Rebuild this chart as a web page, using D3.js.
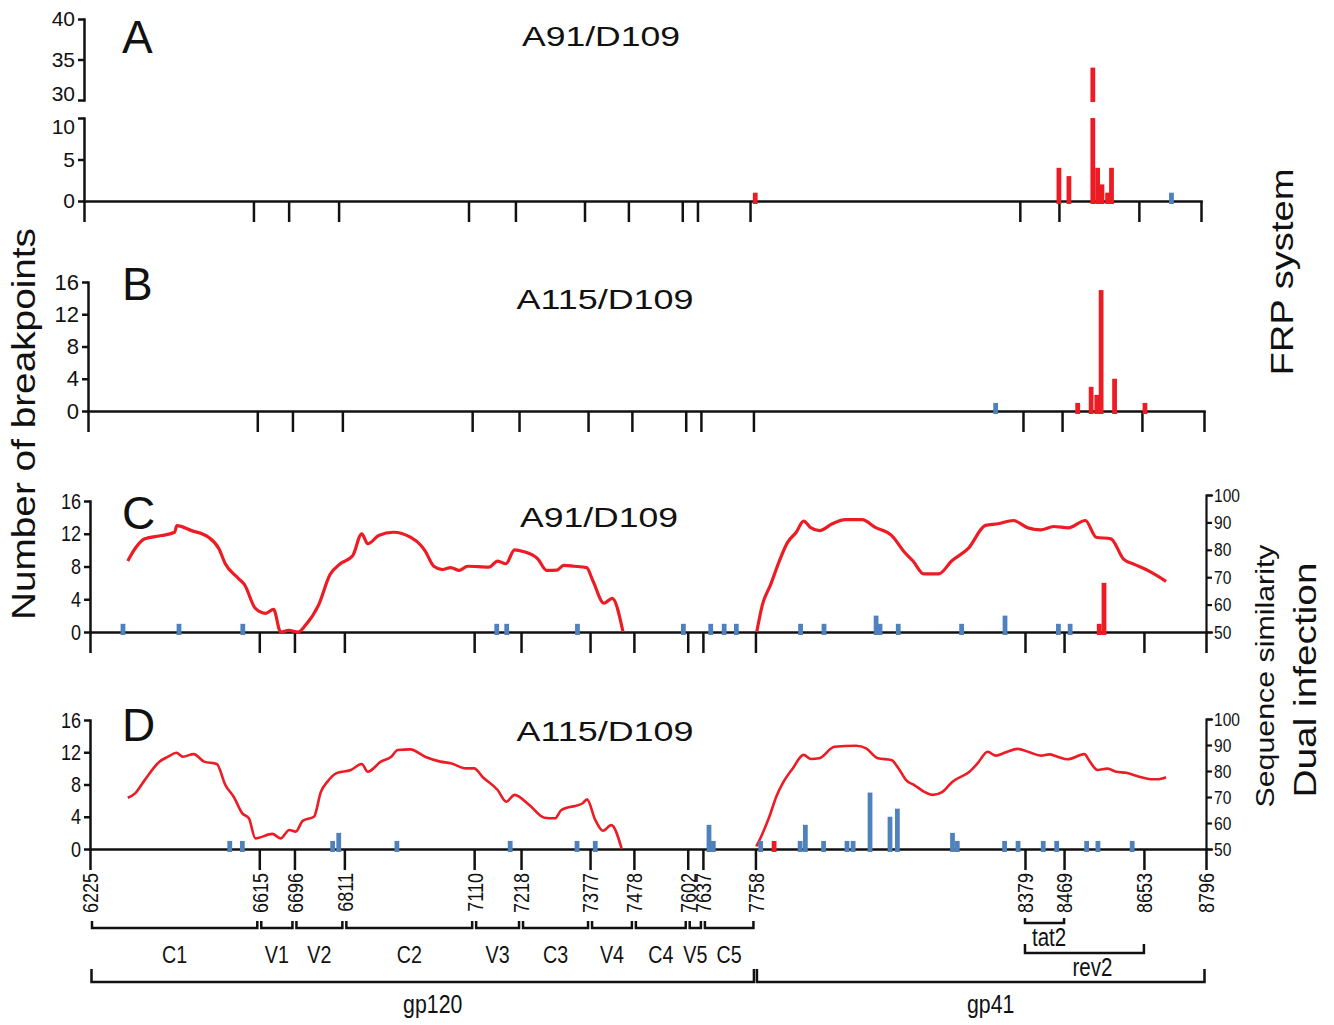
<!DOCTYPE html>
<html>
<head>
<meta charset="utf-8">
<script src="https://cdn.jsdelivr.net/npm/d3@7"></script>
<style>
  body { margin: 0; background: #fff; }
  text { font-family: "Liberation Sans", Arial, sans-serif; fill: #111; }
</style>
</head>
<body>
<div id="chart"></div>
<script>
// genome coordinates (HXB2) of the env region boundaries
const boundaries = [6225, 6615, 6696, 6811, 7110, 7218, 7377, 7478, 7602, 7637, 7758, 8379, 8469, 8653, 8796];
const regionNames = ["C1", "V1", "V2", "C2", "V3", "C3", "V4", "C4", "V5", "C5"];
const proteins = [["gp120", 6225, 7758], ["gp41", 7758, 8796]];
const exons = [["tat2", 8379, 8469], ["rev2", 8379, 8653]];

// breakpoint counts: [position, number of breakpoints]
const frpA_red = [[7770, 1], [8469, 4], [8492, 3], [8547, 34], [8558, 4], [8568, 2], [8581, 1], [8590, 4]];
const frpA_blue = [[8728, 1]];
const frpB_red = [[8505, 1], [8536, 3], [8549, 2], [8559, 15], [8590, 4], [8660, 1]];
const frpB_blue = [[8316, 1]];
const dualC_blue = [[6301, 1], [6430, 1], [6577, 1], [7162, 1], [7185, 1], [7348, 1], [7592, 1], [7655, 1], [7686, 1], [7714, 1],
  [7862, 1], [7916, 1], [8036, 2], [8045, 1], [8087, 1], [8233, 1], [8333, 2], [8456, 1], [8483, 1]];
const dualC_red = [[8550, 1], [8561, 6]];
const dualD_blue = [[6547, 1], [6576, 1], [6784, 1], [6798, 2], [6932, 1], [7193, 1], [7347, 1], [7389, 1], [7651, 3], [7661, 1],
  [7770, 1], [7861, 1], [7873, 3], [7915, 1], [7969, 1], [7983, 1], [8022, 7], [8068, 4], [8085, 5], [8212, 2], [8223, 1],
  [8332, 1], [8363, 1], [8421, 1], [8452, 1], [8521, 1], [8547, 1], [8626, 1]];
const dualD_red = [[7801, 1]];

// sequence similarity (%) along the alignment, null = below 50 (not shown)
const simC = [[6312, 75.9], [6331, 80.9], [6351, 84], [6390, 85.2], [6420, 86.4], [6425, 88.8], [6459, 87], [6498, 84.6], [6522, 80.4],
  [6537, 74.8], [6566, 69.7], [6581, 67.3], [6606, 58.6], [6630, 56.8], [6648, 58.3], [6664, 50], [6683, 50.6], [6704, 50],
  [6722, 52.6], [6752, 60], [6778, 71], [6801, 74.8], [6830, 77.8], [6851, 85.8], [6865, 82.2], [6890, 85.2], [6924, 86.4],
  [6963, 84.6], [6988, 81.5], [6997, 79.6], [7017, 74], [7037, 72.8], [7056, 73.5], [7076, 72.5], [7095, 74], [7144, 73.7],
  [7164, 75.9], [7183, 74.9], [7203, 80], [7223, 79.4], [7257, 76.6], [7277, 72.5], [7301, 72.6], [7316, 74.3], [7340, 74],
  [7369, 73.5], [7384, 68.5], [7409, 60.5], [7428, 62.3], [7453, 50], [7600, null],
  [7761, 50], [7774, 59.9], [7793, 67.3], [7813, 75.9], [7832, 82.7], [7852, 86.4], [7869, 90.5], [7886, 88], [7906, 87],
  [7935, 89.5], [7965, 91], [8004, 91], [8033, 88.3], [8072, 85.2], [8102, 79], [8121, 75.9], [8146, 71.2], [8180, 71.2],
  [8210, 75.9], [8249, 80.6], [8288, 88.9], [8317, 89.5], [8352, 90.7], [8386, 88], [8415, 87.3], [8445, 88.5], [8479, 88],
  [8518, 90.7], [8543, 84.6], [8577, 84], [8606, 76.6], [8631, 74.7], [8665, 72.2], [8704, 68.5]];
const simD = [[6312, 69.7], [6329, 71.4], [6351, 76.5], [6385, 83.6], [6405, 85.5], [6424, 87], [6439, 85.5], [6464, 86.5],
  [6488, 83.6], [6517, 82.7], [6537, 74.6], [6556, 70.1], [6576, 63.7], [6591, 61.8], [6606, 54.1], [6645, 55.8], [6664, 54.1],
  [6684, 57.3], [6699, 56.7], [6715, 60.8], [6741, 62.4], [6757, 72], [6772, 75.9], [6792, 79.1], [6826, 80.4], [6851, 82.7],
  [6865, 79.7], [6895, 83.6], [6919, 85.5], [6934, 88.1], [6963, 88.3], [6997, 85.5], [7032, 83.6], [7056, 83], [7091, 81],
  [7110, 81], [7130, 77.6], [7164, 72.7], [7184, 68.2], [7203, 70.8], [7237, 66.9], [7272, 62], [7296, 61.8], [7311, 65],
  [7360, 67.6], [7370, 69.1], [7389, 61.2], [7407, 57], [7426, 59.2], [7450, 50], [7600, null],
  [7760, 51], [7771, 54.7], [7790, 62.4], [7806, 70.1], [7821, 75.3], [7844, 81], [7869, 86.2], [7886, 84.6], [7905, 84.9],
  [7940, 89.3], [7990, 89.7], [8013, 88.7], [8040, 84.9], [8071, 84.2], [8090, 80.4], [8105, 76.5], [8124, 74.6], [8147, 72],
  [8166, 70.8], [8189, 72], [8212, 75.9], [8251, 79.7], [8270, 83], [8293, 87.4], [8312, 85.9], [8335, 87.2], [8362, 88.5],
  [8389, 87.2], [8416, 85.9], [8435, 86.4], [8454, 85.5], [8477, 84.5], [8516, 86.5], [8527, 84], [8546, 80.4], [8569, 80.9],
  [8589, 79.7], [8612, 79.3], [8642, 77.8], [8669, 76.8], [8684, 76.8], [8704, 77.6]];

const countTicks = [0, 4, 8, 12, 16];
const simTicks = [50, 60, 70, 80, 90, 100];
const binWidth = 11; // bp per breakpoint bin

const RED = "#ed1c24", BLUE = "#4f81bd";
const NARROW = 0.82; // horizontal squeeze to mimic a condensed face

const svg = d3.select("#chart")
  .append("svg")
  .attr("width", 1334)
  .attr("height", 1025);

// squeeze texts along their own x direction
function narrow(sel) {
  sel.each(function () {
    const t = d3.select(this);
    const x = +t.attr("x") || 0;
    const tr = t.attr("transform") || "";
    t.attr("x", x / NARROW).attr("transform", (tr + " scale(" + NARROW + ",1)").trim());
  });
}

// common styling for the axes
function styleAxis(g, width) {
  g.selectAll("path, line").attr("stroke", "#111").attr("stroke-width", width || 2.5);
  g.select(".domain").attr("stroke-linecap", "square");
}

function drawBars(g, x, y, data, color, yZero) {
  g.selectAll(null)
    .data(data)
    .enter()
    .append("rect")
    .attr("x", d => x(d[0] - binWidth / 2))
    .attr("width", d => x(d[0] + binWidth / 2) - x(d[0] - binWidth / 2))
    .attr("y", d => y(d[1]))
    .attr("height", d => yZero + 3 - y(d[1]))
    .attr("fill", color);
}

function bottomAxis(x, y0, withLabels) {
  const g = svg.append("g")
    .attr("transform", "translate(0," + y0 + ")")
    .call(d3.axisBottom(x).tickValues(boundaries).tickSize(21).tickSizeOuter(0)
      .tickFormat(withLabels ? d3.format("d") : ""));
  styleAxis(g);
  if (withLabels) {
    g.selectAll("text")
      .attr("transform", "rotate(-90)")
      .attr("x", -24)
      .attr("y", 0)
      .attr("dy", "0.36em")
      .attr("text-anchor", "end")
      .style("font-size", "22px")
      .attr("fill", "#111")
      .call(narrow);
  }
  return g;
}

function panelText(letter, title, yLetter, yTitle, titleX, titleLen) {
  svg.append("text").attr("x", 122).attr("y", yLetter).style("font-size", "46px").text(letter);
  svg.append("text").attr("x", titleX).attr("y", yTitle).attr("text-anchor", "middle")
    .attr("textLength", titleLen).attr("lengthAdjust", "spacingAndGlyphs")
    .style("font-size", "28px").text(title);
}

// ---------- Panel A (broken y axis) ----------
{
  const x = d3.scaleLinear().domain([6225, 8796]).range([84, 1201]);
  const yLow = d3.scaleLinear().domain([0, 10]).range([201, 118]);
  const yHigh = d3.scaleLinear().domain([30, 40]).range([100, 19]);

  const gl = svg.append("g").attr("transform", "translate(84,0)")
    .call(d3.axisLeft(yLow).tickValues([0, 5, 10]).tickSize(6).tickSizeOuter(0));
  const gh = svg.append("g").attr("transform", "translate(84,0)")
    .call(d3.axisLeft(yHigh).tickValues([30, 35, 40]).tickSize(6).tickSizeOuter(0));
  [gl, gh].forEach(g => { styleAxis(g); g.selectAll("text").style("font-size", "21px").attr("fill", "#111"); });
  // labels either side of the break sit away from each other
  gl.selectAll("text").filter(d => d === 10).attr("dy", "0.72em");
  gh.selectAll("text").filter(d => d === 30).attr("dy", "0em");

  bottomAxis(x, 201, false);

  const bars = svg.append("g");
  drawBars(bars, x, d => yLow(Math.min(d, 10)), frpA_red, RED, 201);
  drawBars(bars, x, d => yLow(Math.min(d, 10)), frpA_blue, BLUE, 201);
  // part of the tall bar above the axis break
  bars.selectAll(null)
    .data(frpA_red.filter(d => d[1] > 30))
    .enter()
    .append("rect")
    .attr("x", d => x(d[0] - binWidth / 2))
    .attr("width", d => x(d[0] + binWidth / 2) - x(d[0] - binWidth / 2))
    .attr("y", d => yHigh(d[1]))
    .attr("height", d => yHigh(30) + 2 - yHigh(d[1]))
    .attr("fill", RED);

  panelText("A", "A91/D109", 53, 46, 601, 158);
}

// ---------- Panel B ----------
{
  const x = d3.scaleLinear().domain([6225, 8796]).range([88, 1204]);
  const y = d3.scaleLinear().domain([0, 16]).range([411, 282]);
  const gy = svg.append("g").attr("transform", "translate(88,0)")
    .call(d3.axisLeft(y).tickValues(countTicks).tickSize(6).tickSizeOuter(0));
  styleAxis(gy);
  gy.selectAll("text").style("font-size", "22px").attr("fill", "#111");

  bottomAxis(x, 411, false);

  const bars = svg.append("g");
  drawBars(bars, x, y, frpB_red, RED, 411);
  drawBars(bars, x, y, frpB_blue, BLUE, 411);

  panelText("B", "A115/D109", 300, 309, 605, 177);
}

// ---------- Panels C and D (breakpoints + similarity) ----------
function dualPanel(opts) {
  const x = d3.scaleLinear().domain([6225, 8796]).range([90, 1206]);
  const y = d3.scaleLinear().domain([0, 16]).range([opts.y0, opts.y16]);
  const ySim = d3.scaleLinear().domain([50, 100]).range([opts.y0, opts.y100]);

  const gy = svg.append("g").attr("transform", "translate(90,0)")
    .call(d3.axisLeft(y).tickValues(countTicks).tickSize(6).tickSizeOuter(0));
  styleAxis(gy);
  gy.selectAll("text").style("font-size", "22px").attr("fill", "#111").call(narrow);

  const gr = svg.append("g").attr("transform", "translate(1206,0)")
    .call(d3.axisRight(ySim).tickValues(simTicks).tickSize(6).tickSizeOuter(6));
  styleAxis(gr, 2.2);
  gr.selectAll("text").style("font-size", "19px").attr("fill", "#111").attr("x", 8).call(narrow);

  // right axis continues below the x axis as the last boundary tick
  bottomAxis(x, opts.y0, opts.labels);

  const line = d3.line()
    .defined(d => d[1] !== null)
    .x(d => x(d[0]))
    .y(d => ySim(d[1]))
    .curve(d3.curveMonotoneX);
  svg.append("path")
    .datum(opts.sim)
    .attr("d", line)
    .attr("fill", "none")
    .attr("stroke", RED)
    .attr("stroke-width", opts.lineWidth)
    .attr("stroke-linejoin", "round");

  const bars = svg.append("g");
  drawBars(bars, x, y, opts.blue, BLUE, opts.y0);
  drawBars(bars, x, y, opts.red, RED, opts.y0);

  panelText(opts.letter, opts.title, opts.yLetter, opts.yTitle, opts.titleX, opts.titleLen);
}

dualPanel({ y0: 632, y16: 501, y100: 495, sim: simC, blue: dualC_blue, red: dualC_red, labels: false,
  lineWidth: 3.2, letter: "C", title: "A91/D109", yLetter: 529, yTitle: 527, titleX: 599, titleLen: 158 });
dualPanel({ y0: 849, y16: 720, y100: 719, sim: simD, blue: dualD_blue, red: dualD_red, labels: true,
  lineWidth: 2.6, letter: "D", title: "A115/D109", yLetter: 741, yTitle: 741, titleX: 605, titleLen: 177 });

// ---------- region brackets ----------
{
  const x = d3.scaleLinear().domain([6225, 8796]).range([90, 1206]);
  const bracket = (a, b, yLine, hook, gap) => {
    const x0 = x(a) + gap, x1 = x(b) - gap;
    return "M" + x0 + "," + (yLine - hook) + "V" + yLine + "H" + x1 + "V" + (yLine - hook);
  };
  const g = svg.append("g");

  const regions = regionNames.map((n, i) => [n, boundaries[i], boundaries[i + 1]]);
  g.selectAll(".reg")
    .data(regions)
    .enter()
    .append("path")
    .attr("d", d => bracket(d[1], d[2], 928, 7, 2))
    .attr("fill", "none").attr("stroke", "#111").attr("stroke-width", 2.5);
  g.selectAll(".regl")
    .data(regions)
    .enter()
    .append("text")
    .attr("x", d => x((d[1] + d[2]) / 2))
    .attr("y", 963)
    .attr("text-anchor", "middle")
    .style("font-size", "24px")
    .text(d => d[0])
    .call(narrow);

  g.selectAll(".prot")
    .data(proteins)
    .enter()
    .append("path")
    .attr("d", d => bracket(d[1], d[2], 982, 13, 1.5))
    .attr("fill", "none").attr("stroke", "#111").attr("stroke-width", 2.5);
  g.selectAll(".protl")
    .data(proteins)
    .enter()
    .append("text")
    .attr("x", d => x((d[1] + d[2]) / 2) + 10)
    .attr("y", 1013)
    .attr("text-anchor", "middle")
    .style("font-size", "26px")
    .text(d => d[0])
    .call(narrow);

  const exonY = [923, 953], exonHook = [5, 9], exonLabelY = [946, 976];
  g.selectAll(".exon")
    .data(exons)
    .enter()
    .append("path")
    .attr("d", (d, i) => bracket(d[1], d[2], exonY[i], exonHook[i], 0))
    .attr("fill", "none").attr("stroke", "#111").attr("stroke-width", 2.5);
  g.selectAll(".exonl")
    .data(exons)
    .enter()
    .append("text")
    .attr("x", (d, i) => i === 0 ? x(d[1]) + 7 : x((d[1] + d[2]) / 2) + 8)
    .attr("y", (d, i) => exonLabelY[i])
    .style("font-size", "25px")
    .attr("text-anchor", (d, i) => i === 0 ? "start" : "middle")
    .text(d => d[0])
    .call(narrow);
}

// ---------- side titles ----------
function vText(xPos, yMid, size, len, label) {
  svg.append("text")
    .attr("transform", "translate(" + xPos + "," + yMid + ") rotate(-90)")
    .attr("text-anchor", "middle")
    .attr("textLength", len)
    .attr("lengthAdjust", "spacingAndGlyphs")
    .style("font-size", size + "px")
    .text(label);
}
vText(35, 424, 33, 392, "Number of breakpoints");
vText(1293, 272, 32, 207, "FRP system");
vText(1316, 680, 32, 235, "Dual infection");
vText(1274, 676, 26, 263, "Sequence similarity");
</script>
</body>
</html>
